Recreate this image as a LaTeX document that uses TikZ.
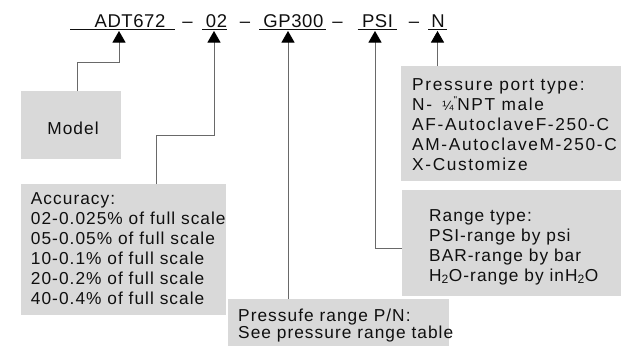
\documentclass[tikz,border=0pt]{standalone}
\usepackage{fontspec}
\setmainfont{Liberation Sans}
\newfontfamily\bodyfont[LetterSpace=6]{Liberation Sans}
\newfontfamily\portfont[LetterSpace=9.5]{Liberation Sans}
\newfontfamily\titlefont[LetterSpace=3]{Liberation Sans}
\usetikzlibrary{arrows.meta}
\definecolor{boxgray}{RGB}{217,217,217}
\definecolor{linegray}{RGB}{105,105,105}
\definecolor{txt}{RGB}{15,15,15}
\begin{document}
\begin{tikzpicture}[x=1pt,y=-1pt,
  box/.style={fill=boxgray, draw=none, inner sep=0pt, anchor=north west},
  body/.style={font=\bodyfont\fontsize{17.3}{20}\selectfont, text=txt, inner sep=0pt, anchor=base west},
  portbody/.style={body, font=\portfont\fontsize{17.3}{20}\selectfont},
  ttl/.style={font=\titlefont\fontsize{18.5}{20}\selectfont, text=txt, inner sep=0pt, anchor=base},
  uline/.style={line width=0.9pt, draw=txt},
  conn/.style={line width=0.9pt, draw=linegray, -{Triangle[width=13pt,length=11.5pt,color=black]}},
]
\useasboundingbox (0,0) rectangle (632,346);

% title row
\node[ttl] (adt) at (130,27.7) {ADT672};
\node[ttl] (d1) at (187.5,27.7) {–};
\node[ttl] (n02) at (216.5,27.7) {02};
\node[ttl] (d2) at (245,27.7) {–};
\node[ttl] (gp) at (293.4,27.7) {GP300};
\node[ttl] (d3) at (337.5,27.7) {–};
\node[ttl] (psi) at (377.5,27.7) {PSI};
\node[ttl] (d4) at (414,27.7) {–};
\node[ttl] (nn) at (438,27.7) {N};

\draw[uline] (70,29.3) -- (175,29.3);
\draw[uline] (202,29.3) -- (227,29.3);
\draw[uline] (259,29.3) -- (326,29.3);
\draw[uline] (357.7,29.3) -- (396.7,29.3);
\draw[uline] (428,29.3) -- (447,29.3);

% arrow tip points
\coordinate (tA) at (119,31);
\coordinate (tB) at (214,31);
\coordinate (tC) at (288,31);
\coordinate (tD) at (375,31);
\coordinate (tE) at (437.5,31);

% boxes
\node[box, minimum width=100pt, minimum height=68pt] (model) at (21,91) {};
\node[box, minimum width=205pt, minimum height=131pt] (acc) at (21,184) {};
\node[box, minimum width=221pt, minimum height=47pt] (pres) at (228,299) {};
\node[box, minimum width=220pt, minimum height=115pt] (port) at (401,66) {};
\node[box, minimum width=219pt, minimum height=106pt] (range) at (402,190) {};

% texts
\node[body, anchor=center] (modeltxt) at (73,128) {Model};
\node[body] (acctxt) at (30.7,204.5) {\vtop{\hbox{Accuracy:}\hbox{02-0.025\% of full scale}\hbox{05-0.05\% of full scale}\hbox{10-0.1\% of full scale}\hbox{20-0.2\% of full scale}\hbox{40-0.4\% of full scale}}};
\node[portbody] (porttxt) at (412,90.5) {\vtop{\hbox{Pressure port type:}\hbox{N-\hspace{0.6em}{\fontsize{13.5}{13.5}\selectfont ¼}\raisebox{0.4em}{\fontsize{10}{10}\selectfont "}NPT male}\hbox{AF-AutoclaveF-250-C}\hbox{AM-AutoclaveM-250-C}\hbox{X-Customize}}};
\node[body] (rangetxt) at (429,221) {\vtop{\hbox{Range type:}\hbox{PSI-range by psi}\hbox{BAR-range by bar}\hbox{H\textsubscript{2}O-range by inH\textsubscript{2}O}}};
\node[body] (prestxt) at (238,321.7) {\vtop{\baselineskip=17pt\hbox{Pressufe range P/N:}\hbox{See pressure range table}}};

% connectors
\draw[conn] ([xshift=6pt]model.north) |- (119,62) -- (tA);
\draw[conn] (acc.north -| 156,0) |- (214,135) -- (tB);
\draw[conn] (pres.north -| tC) -- (tC);
\draw[conn] (range.west |- 0,248) -| (tD);
\draw[conn] (port.north -| tE) -- (tE);
\end{tikzpicture}
\end{document}
